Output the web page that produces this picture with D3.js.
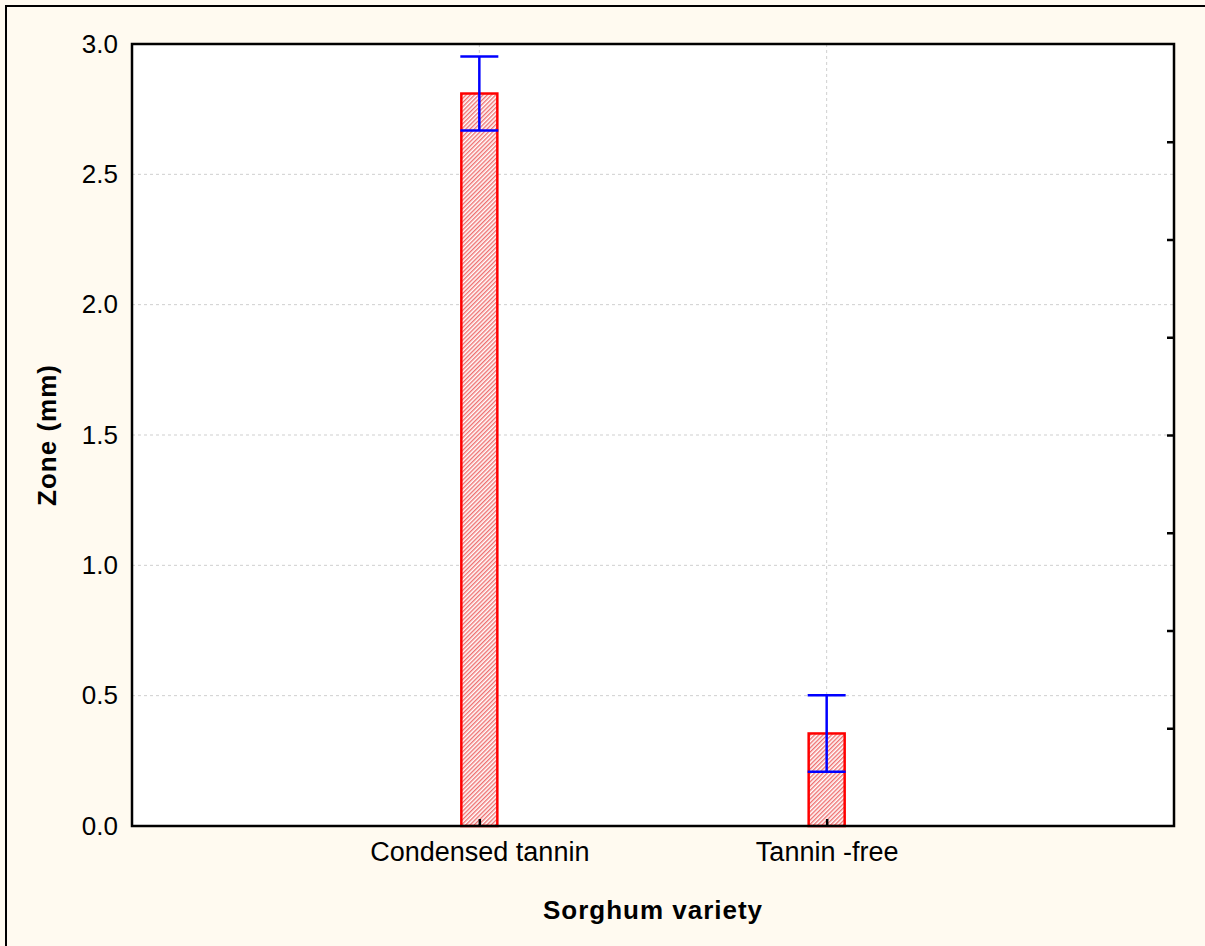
<!DOCTYPE html>
<html>
<head>
<meta charset="utf-8">
<script src="https://cdn.jsdelivr.net/npm/d3@7"></script>
<style>
  body { margin: 0; background: #fffaf0; overflow: hidden; }
  svg { display: block; }
  text { font-family: Arial, "Liberation Sans", sans-serif; }
</style>
</head>
<body>
<svg></svg>
<script>
// Data
const categories = ["Condensed tannin", "Tannin -free"];
const means = [2.81, 0.355];
const errors = [0.142, 0.147];
const yTicks = [0.0, 0.5, 1.0, 1.5, 2.0, 2.5, 3.0];

const width = 1205;
const height = 946;
const plot = { left: 132, top: 44, right: 1174, bottom: 826 };

const svg = d3.select("svg")
  .attr("width", width)
  .attr("height", height);

// background + outer frame (only top/left edges fall inside the image)
svg.append("rect")
  .attr("x", 0).attr("y", 0)
  .attr("width", width).attr("height", height)
  .attr("fill", "#fffaf0");
svg.append("path")
  .attr("d", `M6,${height} V6 H${width}`)
  .attr("fill", "none")
  .attr("stroke", "#000")
  .attr("stroke-width", 2);

// hatch pattern for the bars
const defs = svg.append("defs");
const pat = defs.append("pattern")
  .attr("id", "hatch")
  .attr("patternUnits", "userSpaceOnUse")
  .attr("width", 3).attr("height", 3)
  .attr("patternTransform", "rotate(-45)");
pat.append("rect").attr("width", 3).attr("height", 3).attr("fill", "#fff");
pat.append("rect").attr("width", 3).attr("height", 1.4).attr("fill", "#ee7070");

const x = d3.scalePoint()
  .domain(categories)
  .range([plot.left, plot.right])
  .padding(1);

const y = d3.scaleLinear()
  .domain([0, 3])
  .range([plot.bottom, plot.top]);

// plot area
svg.append("rect")
  .attr("x", plot.left).attr("y", plot.top)
  .attr("width", plot.right - plot.left)
  .attr("height", plot.bottom - plot.top)
  .attr("fill", "#fff");

// grid lines
svg.append("g")
  .selectAll("line")
  .data(yTicks.filter(d => d > 0 && d < 3))
  .enter().append("line")
  .attr("x1", plot.left).attr("x2", plot.right)
  .attr("y1", d => y(d)).attr("y2", d => y(d))
  .attr("stroke", "#cfcfcf")
  .attr("stroke-dasharray", "3,3");

svg.append("g")
  .selectAll("line")
  .data(categories)
  .enter().append("line")
  .attr("x1", d => x(d)).attr("x2", d => x(d))
  .attr("y1", plot.top).attr("y2", plot.bottom)
  .attr("stroke", "#cfcfcf")
  .attr("stroke-dasharray", "3,3");

// bars
const barW = 36;
svg.append("g")
  .selectAll("rect")
  .data(categories)
  .enter().append("rect")
  .attr("x", d => x(d) - barW / 2)
  .attr("y", (d, i) => y(means[i]))
  .attr("width", barW)
  .attr("height", (d, i) => y(0) - y(means[i]))
  .attr("fill", "url(#hatch)")
  .attr("stroke", "#ff0000")
  .attr("stroke-width", 2.5);

// error bars
const capW = 38;
const err = svg.append("g")
  .attr("stroke", "#0000ff")
  .attr("stroke-width", 2.5);
categories.forEach((c, i) => {
  const cx = x(c);
  const hi = y(means[i] + errors[i]);
  const lo = y(means[i] - errors[i]);
  err.append("line").attr("x1", cx).attr("x2", cx).attr("y1", hi).attr("y2", lo);
  err.append("line").attr("x1", cx - capW / 2).attr("x2", cx + capW / 2).attr("y1", hi).attr("y2", hi);
  err.append("line").attr("x1", cx - capW / 2).attr("x2", cx + capW / 2).attr("y1", lo).attr("y2", lo);
});

// axes
const axisLeft = svg.append("g")
  .attr("transform", `translate(${plot.left},0)`)
  .call(d3.axisLeft(y).tickValues(yTicks).tickFormat(d3.format(".1f")).tickSize(0).tickPadding(14));
axisLeft.select(".domain").remove();
axisLeft.selectAll("text")
  .attr("font-family", null)
  .style("font-size", "26px")
  .attr("fill", "#000");

const axisBottom = svg.append("g")
  .attr("transform", `translate(0,${plot.bottom})`)
  .call(d3.axisBottom(x).tickSize(-7).tickPadding(16));
axisBottom.select(".domain").remove();
axisBottom.selectAll("line").attr("stroke", "#000").attr("stroke-width", 2.5);
axisBottom.selectAll("text")
  .style("font-size", "27px")
  .attr("fill", "#000");

// right axis: inside ticks every 3/8
const rightTicks = d3.range(1, 8).map(k => k * 3 / 8);
const axisRight = svg.append("g")
  .attr("transform", `translate(${plot.right},0)`)
  .call(d3.axisRight(y).tickValues(rightTicks).tickSize(-7).tickFormat(""));
axisRight.select(".domain").remove();
axisRight.selectAll("line").attr("stroke", "#000").attr("stroke-width", 2.5);

// plot frame
svg.append("rect")
  .attr("x", plot.left).attr("y", plot.top)
  .attr("width", plot.right - plot.left)
  .attr("height", plot.bottom - plot.top)
  .attr("fill", "none")
  .attr("stroke", "#000")
  .attr("stroke-width", 2.5);

// axis titles
svg.append("text")
  .attr("x", (plot.left + plot.right) / 2)
  .attr("y", 919)
  .attr("text-anchor", "middle")
  .style("font-size", "26px")
  .style("font-weight", "bold")
  .style("letter-spacing", "1px")
  .text("Sorghum variety");

svg.append("text")
  .attr("transform", `translate(56,${(plot.top + plot.bottom) / 2}) rotate(-90)`)
  .attr("text-anchor", "middle")
  .style("font-size", "26px")
  .style("font-weight", "bold")
  .style("letter-spacing", "1px")
  .text("Zone (mm)");
</script>
</body>
</html>
